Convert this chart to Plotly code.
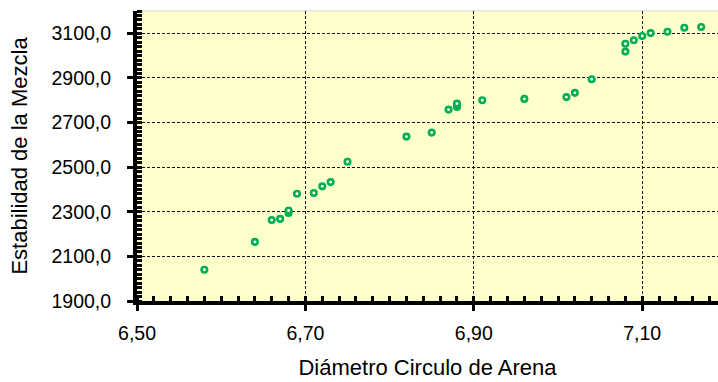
import plotly.graph_objects as go

# Data
diametro = [6.58, 6.64, 6.66, 6.67, 6.68, 6.68, 6.69, 6.71, 6.72, 6.73, 6.75,
            6.82, 6.85, 6.87, 6.88, 6.88, 6.88, 6.91, 6.96, 7.01, 7.02, 7.04,
            7.08, 7.08, 7.09, 7.10, 7.11, 7.13, 7.15, 7.17]
estabilidad = [2040, 2165, 2263, 2268, 2295, 2306, 2381, 2384, 2414, 2433, 2524,
               2637, 2655, 2758, 2770, 2778, 2785, 2800, 2806, 2814, 2833, 2894,
               3018, 3053, 3069, 3088, 3101, 3107, 3125, 3128]

x_title = "Diámetro Circulo de Arena"
y_title = "Estabilidad de la Mezcla"

FONT = "Liberation Sans, Arial, sans-serif"
GREEN = "#00B050"

fig = go.Figure()
fig.add_trace(go.Scatter(
    x=diametro, y=estabilidad, mode="markers",
    marker=dict(symbol="circle", size=5.5, color="white",
                line=dict(color=GREEN, width=2.6)),
    showlegend=False, cliponaxis=False,
))

axis_common = dict(
    showline=True, linecolor="black", linewidth=4,
    ticks="outside", ticklen=6, tickwidth=3, tickcolor="black",
    showgrid=True, gridcolor="#111111", gridwidth=1, griddash="3px,2px",
    zeroline=False, mirror=False, automargin=False,
    tickfont=dict(family=FONT, size=19.5, color="black"),
    title_font=dict(family=FONT, size=22, color="black"),
)

fig.update_xaxes(
    range=[6.5, 7.19], tick0=6.5, dtick=0.2, tickformat=".2f",
    minor=dict(ticks="inside", dtick=0.02, ticklen=5, tickwidth=3,
               tickcolor="black", showgrid=False),
    title=dict(text=x_title, standoff=17),
    ticklabelstandoff=6,
    **axis_common,
)
fig.update_yaxes(
    range=[1900, 3200], tick0=1900, dtick=200, tickformat=".1f",
    minor=dict(ticks="inside", dtick=20, ticklen=5, tickwidth=3,
               tickcolor="black", showgrid=False),
    title=dict(text=y_title, standoff=19),
    ticklabelstandoff=12,
    **axis_common,
)

fig.add_shape(type="line", xref="paper", yref="paper", x0=0, x1=1, y0=1, y1=1,
              line=dict(color="#E3EDD8", width=2), layer="below")

fig.update_layout(
    width=718, height=382,
    margin=dict(l=137, r=0, t=11, b=81),
    plot_bgcolor="#FFFFCC", paper_bgcolor="white",
    separators=",.",
    font=dict(family=FONT, color="black"),
)

fig.write_html("out.html",
               config={"displayModeBar": False},
               post_script="document.body.style.margin='0';document.body.style.overflow='hidden';")
